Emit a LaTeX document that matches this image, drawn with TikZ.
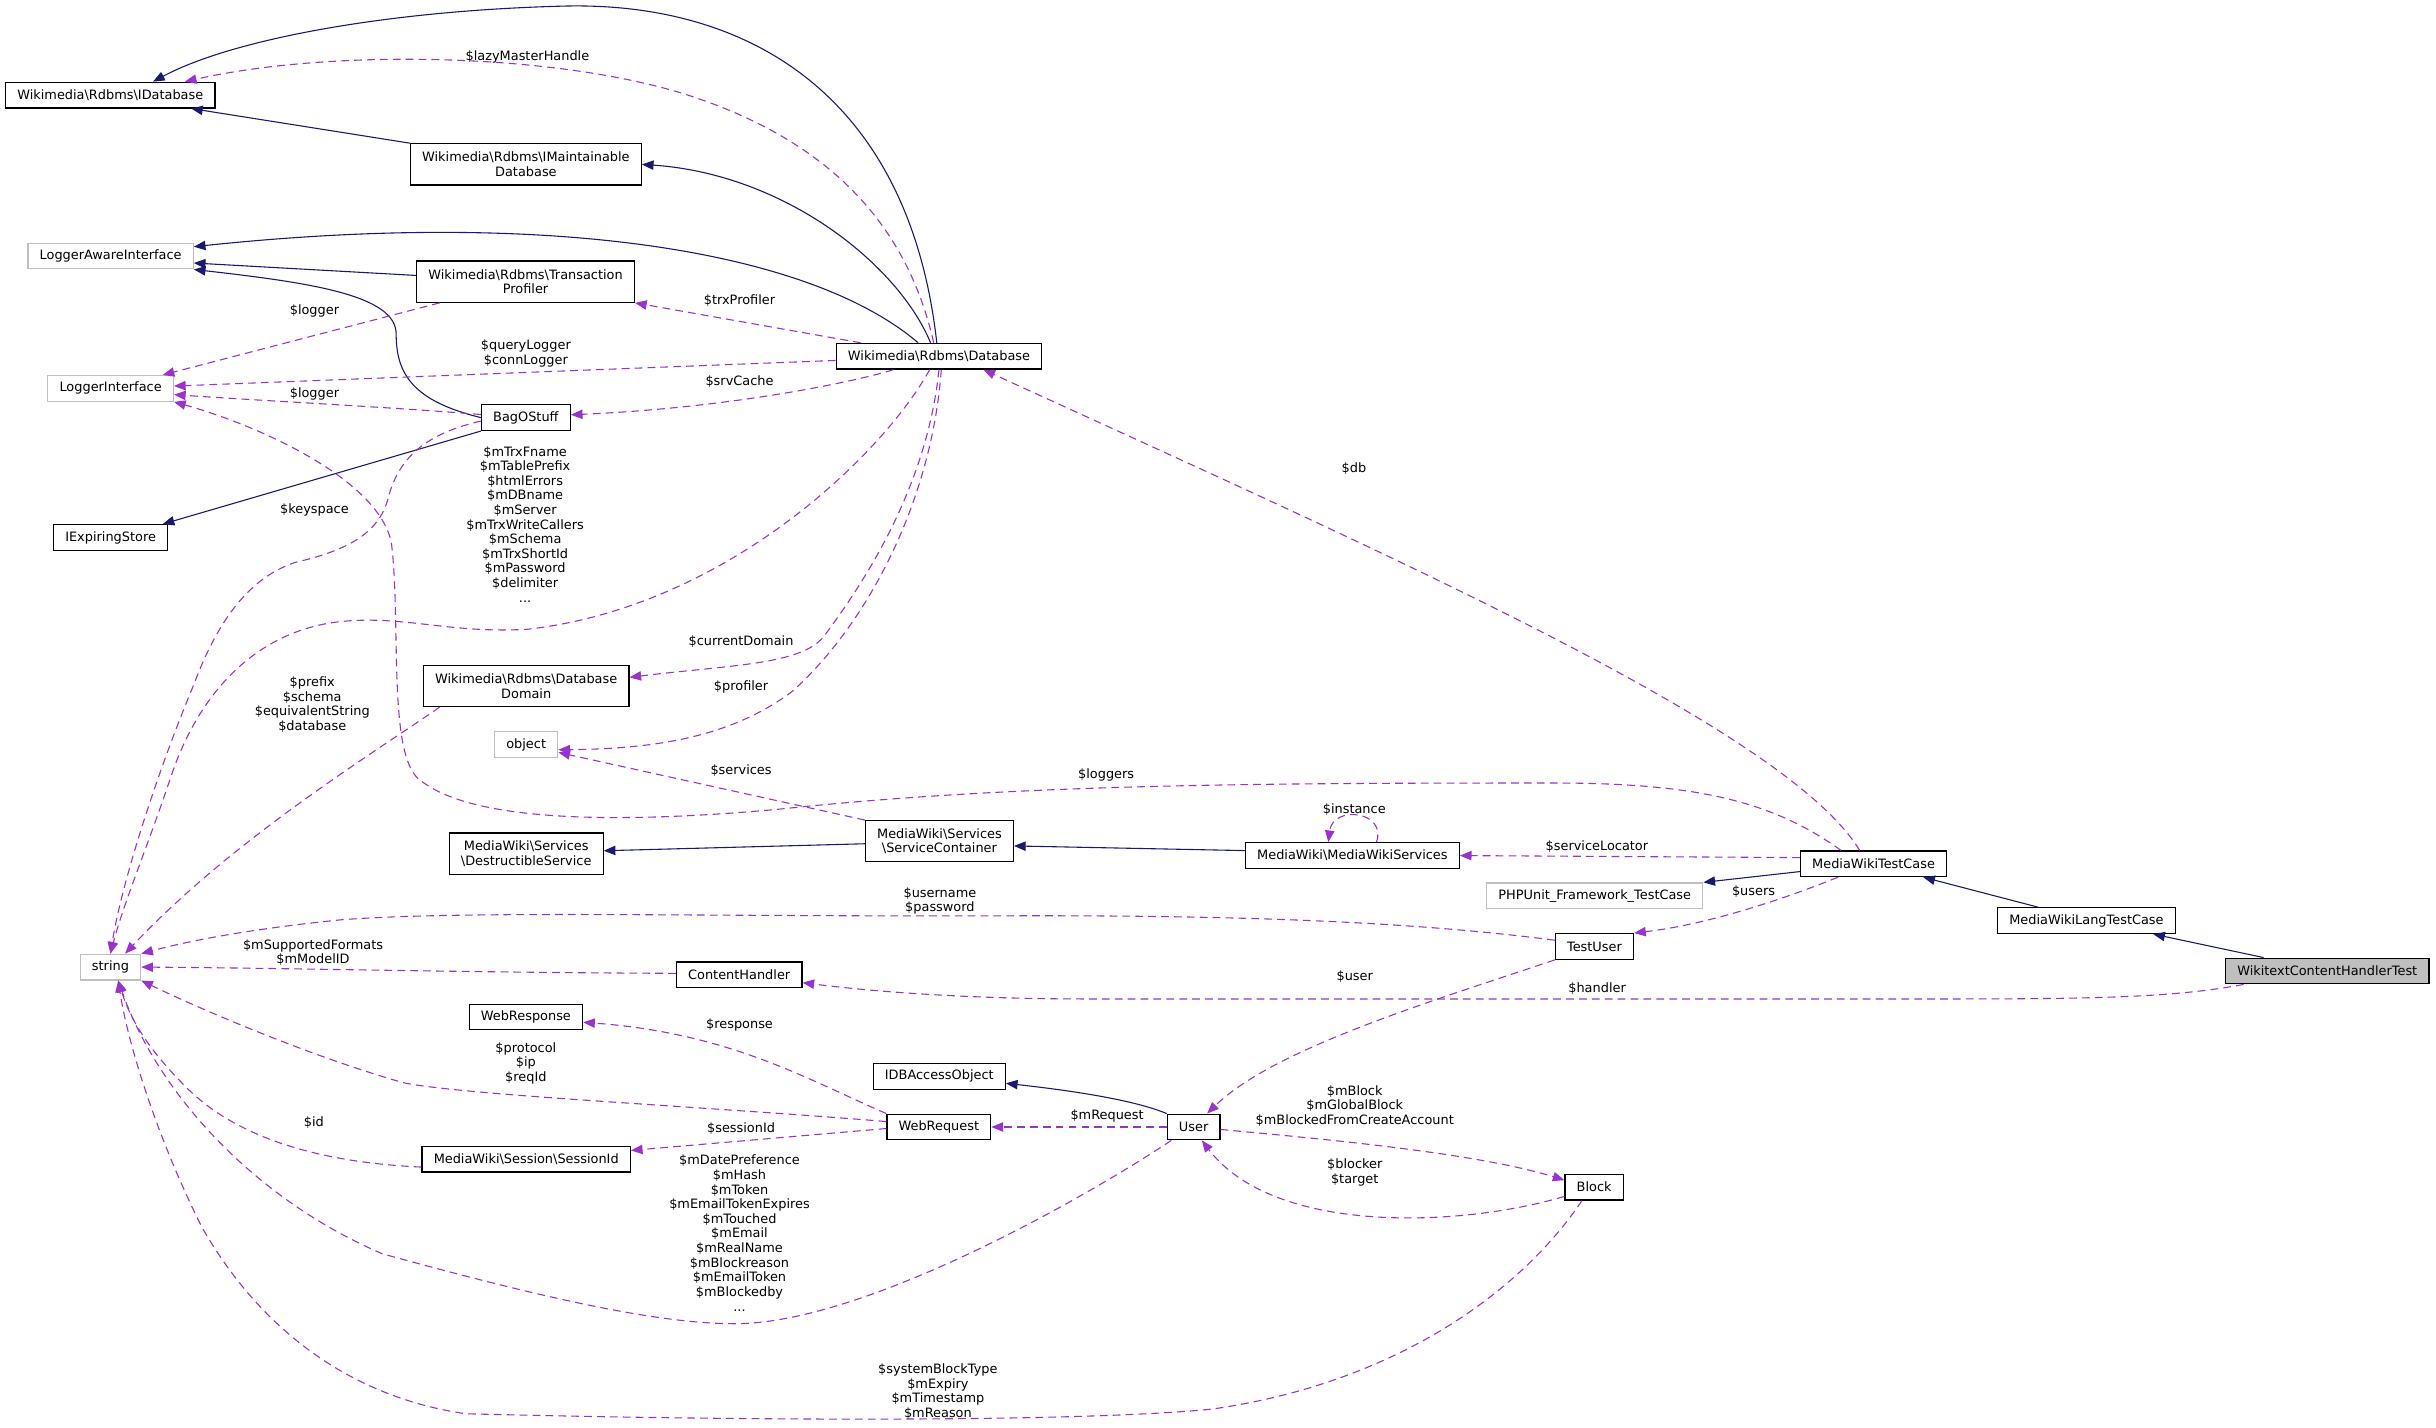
\documentclass[tikz,border=0pt]{standalone}
\usepackage{fontspec}
\setmainfont{DejaVu Sans}
\usetikzlibrary{arrows.meta}
\definecolor{inhblue}{HTML}{191970}
\definecolor{usepurple}{HTML}{9A32CD}
\definecolor{extgray}{HTML}{BFBFBF}
\newcommand{\dgfont}{\fontsize{8.3}{9.4}\selectfont}
\newcommand{\bsl}{\textbackslash}

\begin{document}
\begin{tikzpicture}[
    x=1pt, y=-1pt,
    mynode/.style={draw=black, line width=0.8pt, fill=white, font=\dgfont, align=center, inner xsep=7.5pt, inner ysep=0pt, minimum height=16.5pt},
    twoline/.style={mynode, minimum height=26.5pt},
    extnode/.style={mynode, draw=extgray},
    focusnode/.style={mynode, fill=extgray},
    inherit/.style={draw=inhblue, line width=0.7pt, -{Triangle[length=7.5pt,width=6pt]}},
    usage/.style={draw=usepurple, line width=0.7pt, dash pattern=on 5pt off 3.3pt, -{Triangle[length=7.5pt,width=6pt]}},
    lbl/.style={font=\dgfont, align=center, inner sep=0pt}
]
\useasboundingbox (0,0) rectangle (1568,919);

\node[mynode] (IDb) at (71,61.2) {Wikimedia\bsl Rdbms\bsl IDatabase};
\node[twoline] (IMaintDb) at (338.5,105.8) {Wikimedia\bsl Rdbms\bsl IMaintainable\\Database};
\node[extnode] (LogAware) at (71.2,164.8) {LoggerAwareInterface};
\node[twoline] (TrxProf) at (338.3,181.3) {Wikimedia\bsl Rdbms\bsl Transaction\\Profiler};
\node[extnode] (LogIface) at (71.2,250) {LoggerInterface};
\node[mynode] (Db) at (604.4,229.3) {Wikimedia\bsl Rdbms\bsl Database};
\node[mynode] (Bag) at (338.5,268.8) {BagOStuff};
\node[mynode] (IExpiring) at (71.2,346) {IExpiringStore};
\node[twoline] (DbDomain) at (338.7,441.5) {Wikimedia\bsl Rdbms\bsl Database\\Domain};
\node[extnode] (Obj) at (338.7,479.3) {object};
\node[twoline] (Destructible) at (338.7,549.4) {MediaWiki\bsl Services\\\bsl DestructibleService};
\node[twoline] (SvcContainer) at (604.7,541.5) {MediaWiki\bsl Services\\\bsl ServiceContainer};
\node[mynode] (MwServices) at (870.5,550.7) {MediaWiki\bsl MediaWikiServices};
\node[mynode] (MwTestCase) at (1206,556) {MediaWikiTestCase};
\node[extnode] (PhpUnit) at (1026.5,576.6) {PHPUnit\_Framework\_TestCase};
\node[mynode] (TestUser) at (1026.3,609.2) {TestUser};
\node[mynode] (LangTestCase) at (1343,592.6) {MediaWikiLangTestCase};
\node[focusnode] (WtchTest) at (1498,625) {WikitextContentHandlerTest};
\node[extnode] (Str) at (71.1,622.5) {string};
\node[mynode] (ContentHandler) at (475.8,627.5) {ContentHandler};
\node[mynode] (WebResponse) at (338.5,654.6) {WebResponse};
\node[mynode] (IDBAccess) at (604.6,692.8) {IDBAccessObject};
\node[mynode] (WebRequest) at (604.3,725.4) {WebRequest};
\node[mynode] (User) at (768.3,725.4) {User};
\node[mynode] (SessionId) at (338.7,746.2) {MediaWiki\bsl Session\bsl SessionId};
\node[mynode] (Block) at (1026.1,764.1) {Block};

% inheritance
\draw[inherit] ([xshift=-1.4pt]Db.north) .. controls (585,60) and (480,0) .. (360,4) .. controls (250,7) and (150,25) .. ([xshift=27.5pt]IDb.north);
\draw[inherit] (IMaintDb.north west) -- ([xshift=52pt]IDb.south);
\draw[inherit] ([xshift=-5.4pt]Db.north) .. controls (578,170) and (505,112) .. (IMaintDb.east);
\draw[inherit] ([xshift=-13.4pt]Db.north) .. controls (520,160) and (350,135) .. ([yshift=6pt]LogAware.east);
\draw[inherit] ([yshift=4pt]TrxProf.west) -- ([yshift=-4.5pt]LogAware.east);
\draw[inherit] (Bag.west) .. controls (265,258) and (255,240) .. (255,215) .. controls (255,190) and (200,182) .. (LogAware.south east);
\draw[inherit] (Bag.south west) -- ([xshift=33.5pt]IExpiring.north);
\draw[inherit] ([yshift=-1.6pt]SvcContainer.west) -- ([yshift=1.8pt]Destructible.east);
\draw[inherit] ([yshift=3.2pt]MwServices.west) -- ([yshift=-3pt]SvcContainer.east);
\draw[inherit] ([yshift=-5pt]MwTestCase.west) -- (PhpUnit.north east);
\draw[inherit] ([xshift=-31pt]LangTestCase.north) -- ([xshift=32pt]MwTestCase.south);
\draw[inherit] ([xshift=-41pt]WtchTest.north) -- ([xshift=43pt]LangTestCase.south);
\draw[inherit] (User.north west) .. controls (730,708) and (690,702) .. ([yshift=-4.5pt]IDBAccess.east);

% usage
\draw[usage] ([xshift=-3.4pt]Db.north) .. controls (585,150) and (540,95) .. (451,64) .. controls (370,35) and (220,30) .. ([xshift=48pt]IDb.north);
\draw[usage] ([xshift=-50.4pt]Db.north) -- (TrxProf.south east);
\draw[usage] ([xshift=-55.3pt]TrxProf.south) -- ([xshift=33.5pt]LogIface.north);
\draw[usage] ([yshift=-2.7pt]Db.west) -- ([yshift=1.5pt]LogIface.east);
\draw[usage] ([xshift=-29.4pt]Db.south) .. controls (560,243) and (480,262) .. ([yshift=1.8pt]Bag.east);
\draw[usage] ([yshift=2pt]Bag.west) .. controls (250,262) and (170,258) .. ([yshift=-4pt]LogIface.east);
\draw[usage] ([yshift=-2.2pt]Bag.west) .. controls (280,278) and (258,290) .. (250,320) .. controls (244,345) and (220,355) .. (190,362) .. controls (160,372) and (140,400) .. (125,440) .. controls (100,500) and (78,570) .. (Str.north);
\draw[usage] ([xshift=-6pt]Db.south) .. controls (570,290) and (470,390) .. (340,405) .. controls (290,408) and (260,396) .. (220,400) .. controls (170,405) and (130,440) .. (110,500) .. controls (95,545) and (80,580) .. (Str.north);
\draw[usage] (Db.south) .. controls (597,310) and (560,370) .. (530,410) .. controls (515,428) and (470,428) .. ([yshift=5.5pt]DbDomain.east);
\draw[usage] ([xshift=1.5pt]Db.south) .. controls (600,320) and (560,400) .. (510,445) .. controls (470,475) and (420,482) .. ([yshift=-3.3pt]Obj.east);
\draw[usage] ([xshift=-55.7pt]DbDomain.south) .. controls (240,485) and (150,540) .. ([xshift=9.4pt]Str.north);
\draw[usage] ([xshift=-9pt]MwTestCase.north) .. controls (1150,470) and (900,360) .. ([xshift=28.6pt]Db.south);
\draw[usage] ([xshift=-21pt]MwTestCase.north) .. controls (1140,515) and (1090,504) .. (1000,504) .. controls (800,504) and (650,505) .. (500,521) .. controls (400,530) and (300,530) .. (268,500) .. controls (250,480) and (258,400) .. (252,350) .. controls (245,310) and (170,275) .. (LogIface.south east);
\draw[usage] (SvcContainer.north west) -- ([yshift=-5pt]Obj.east);
\draw[usage] ([yshift=4pt]MwTestCase.west) -- (MwServices.east);
\draw[usage] ([xshift=15.5pt]MwServices.north) .. controls (893,522) and (858,518) .. ([xshift=-15.5pt]MwServices.north);
\draw[usage] ([xshift=-23pt]MwTestCase.south) .. controls (1150,578) and (1100,595) .. (TestUser.north east);
\draw[usage] ([yshift=4pt]TestUser.west) .. controls (900,592) and (780,589) .. (640,589.5) .. controls (450,590) and (300,586) .. (220,592) .. controls (160,598) and (120,606) .. (Str.north east);
\draw[usage] ([yshift=1pt]ContentHandler.west) .. controls (300,626) and (180,623) .. (Str.east);
\draw[usage] ([xshift=12pt]WtchTest.south west) .. controls (1400,642) and (1350,643) .. (1250,643) -- (700,643) .. controls (620,643) and (560,638) .. ([yshift=-5pt]ContentHandler.east);
\draw[usage] (WebRequest.north west) .. controls (520,695) and (470,665) .. ([yshift=-3.4pt]WebResponse.east);
\draw[usage] ([yshift=3.5pt]WebRequest.west) .. controls (450,712) and (300,705) .. (260,697) .. controls (200,680) and (130,650) .. (Str.south east);
\draw[usage] ([yshift=-1pt]WebRequest.west) -- ([yshift=5.7pt]SessionId.east);
\draw[usage] ([yshift=-5pt]SessionId.west) .. controls (200,748) and (150,730) .. (120,700) .. controls (100,680) and (85,660) .. ([xshift=5pt]Str.south);
\draw[usage] ([xshift=3pt]User.south west) .. controls (700,770) and (560,850) .. (476,852) .. controls (420,853) and (330,830) .. (246,807) .. controls (160,770) and (100,700) .. ([xshift=5pt]Str.south);
\draw[usage] ([xshift=-7.8pt]Block.south) .. controls (980,830) and (900,890) .. (780,907) .. controls (700,915) and (500,915) .. (300,910) .. controls (230,900) and (170,860) .. (130,790) .. controls (100,730) and (82,670) .. ([xshift=5pt]Str.south);
\draw[usage] (User.west) -- (WebRequest.east);
\draw[usage] (TestUser.south west) .. controls (920,645) and (820,675) .. ([xshift=8.7pt]User.north);
\draw[usage] ([yshift=-1.6pt]User.east) .. controls (850,733) and (950,742) .. ([yshift=4.5pt]Block.west);
\draw[usage] ([yshift=-6pt]Block.west) .. controls (940,790) and (820,795) .. ([xshift=5.3pt]User.south);

% labels
\node[lbl] (lLazy) at (339.5,36.5) {\$lazyMasterHandle};
\node[lbl] (lTrx) at (476,193.7) {\$trxProfiler};
\node[lbl] (lLog1) at (202.4,200.2) {\$logger};
\node[lbl] (lQuery) at (338.5,227.4) {\$queryLogger\\\$connLogger};
\node[lbl] (lSrv) at (476,245.6) {\$srvCache};
\node[lbl] (lLog2) at (202.4,253.6) {\$logger};
\node[lbl] (lKey) at (202.4,328.3) {\$keyspace};
\node[lbl] (lTrxF) at (338,337.4) {\$mTrxFname\\\$mTablePrefix\\\$htmlErrors\\\$mDBname\\\$mServer\\\$mTrxWriteCallers\\\$mSchema\\\$mTrxShortId\\\$mPassword\\\$delimiter\\...};
\node[lbl] (lDomain) at (477,413) {\$currentDomain};
\node[lbl] (lProf) at (477,442) {\$profiler};
\node[lbl] (lPrefix) at (201,453.5) {\$prefix\\\$schema\\\$equivalentString\\\$database};
\node[lbl] (lDb) at (871.5,301.5) {\$db};
\node[lbl] (lLoggers) at (712,498.8) {\$loggers};
\node[lbl] (lServices) at (477,496) {\$services};
\node[lbl] (lInst) at (871.7,520.9) {\$instance};
\node[lbl] (lSvcLoc) at (1027.9,544.8) {\$serviceLocator};
\node[lbl] (lUsers) at (1128.7,574) {\$users};
\node[lbl] (lUserPw) at (605,580) {\$username\\\$password};
\node[lbl] (lFormats) at (201.5,613.2) {\$mSupportedFormats\\\$mModelID};
\node[lbl] (lUser) at (872,628.7) {\$user};
\node[lbl] (lHandler) at (1028,636.6) {\$handler};
\node[lbl] (lResp) at (476,660) {\$response};
\node[lbl] (lProto) at (338.5,684.5) {\$protocol\\\$ip\\\$reqId};
\node[lbl] (lMBlock) at (872,711.8) {\$mBlock\\\$mGlobalBlock\\\$mBlockedFromCreateAccount};
\node[lbl] (lMReq) at (712.6,718.4) {\$mRequest};
\node[lbl] (lId) at (202,722.5) {\$id};
\node[lbl] (lSess) at (477,726.4) {\$sessionId};
\node[lbl] (lBlocker) at (872,754.5) {\$blocker\\\$target};
\node[lbl] (lDate) at (476,793.7) {\$mDatePreference\\\$mHash\\\$mToken\\\$mEmailTokenExpires\\\$mTouched\\\$mEmail\\\$mRealName\\\$mBlockreason\\\$mEmailToken\\\$mBlockedby\\...};
\node[lbl] (lSys) at (603.7,895.8) {\$systemBlockType\\\$mExpiry\\\$mTimestamp\\\$mReason};
\end{tikzpicture}
\end{document}
